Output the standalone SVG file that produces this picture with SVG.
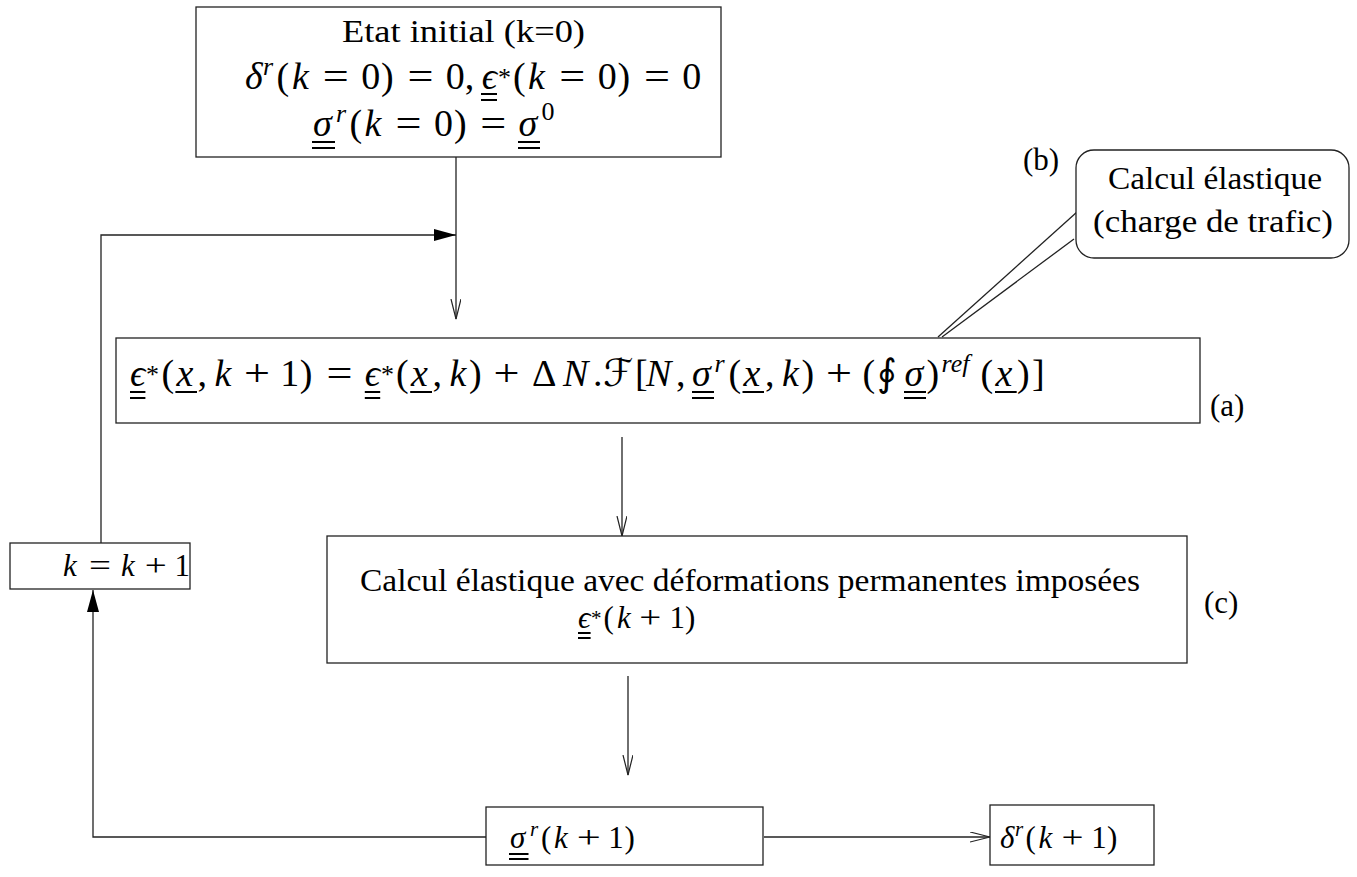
<svg xmlns="http://www.w3.org/2000/svg" width="1357" height="877" viewBox="0 0 1357 877">
<defs>
<marker id="open" markerWidth="22" markerHeight="12" refX="20" refY="5" orient="auto" markerUnits="userSpaceOnUse"><path d="M0,0 L20,5 L0,10" fill="none" stroke="#222" stroke-width="1.2"/></marker>
<marker id="fill" markerWidth="24" markerHeight="14" refX="22" refY="6" orient="auto" markerUnits="userSpaceOnUse"><path d="M0,0 L22,6 L0,12 z" fill="#000" stroke="none"/></marker>
</defs>
<style>
.b { fill: #fff; stroke: #222; stroke-width: 1.3; }
.c { fill: none; stroke: #222; stroke-width: 1.3; }
.t { font-family: "Liberation Serif", "DejaVu Serif", serif; font-size: 31px; fill: #000; }
.m { font-family: "Liberation Serif", "DejaVu Serif", "DejaVu Sans", serif; font-size: 38px; fill: #000; }
.n { font-family: "Liberation Serif", "DejaVu Serif", "DejaVu Sans", serif; font-size: 31px; fill: #000; }
.i { font-style: italic; }
.s { font-size: 26px; }
.ss { font-size: 21px; }
.u { stroke: #000; stroke-width: 2.2; fill: none; }
</style>
<rect width="1357" height="877" fill="#fff"/>

<g id="connectors">
<line class="c" x1="456" y1="157" x2="456" y2="319" marker-end="url(#open)"/>
<polyline class="c" points="101,543 101,235 456,235" marker-end="url(#fill)"/>
<line class="c" x1="622" y1="437" x2="622" y2="536" marker-end="url(#open)"/>
<line class="c" x1="628" y1="676" x2="628" y2="775" marker-end="url(#open)"/>
<line class="c" x1="764" y1="837" x2="990" y2="837" marker-end="url(#open)"/>
<polyline class="c" points="486,837 93,837 93,590" marker-end="url(#fill)"/>
<line class="c" x1="1077" y1="212" x2="938" y2="337"/>
<line class="c" x1="1074" y1="239" x2="942" y2="337"/>
</g>

<g id="init">
<rect class="b" x="196" y="7" width="525" height="150"/>
<text class="t" x="342" y="42" textLength="243" lengthAdjust="spacingAndGlyphs">Etat initial (k=0)</text>
<text class="m">
<tspan class="i" x="245" y="89">δ</tspan><tspan class="i s" x="263" y="75">r</tspan><tspan x="276.5" y="89">(</tspan><tspan class="i" x="292" y="89">k</tspan><tspan x="322.8" y="89" textLength="26" lengthAdjust="spacingAndGlyphs">=</tspan><tspan x="361.2" y="89">0</tspan><tspan x="381" y="89">)</tspan><tspan x="407.4" y="89" textLength="26" lengthAdjust="spacingAndGlyphs">=</tspan><tspan x="445.8" y="89">0,</tspan><tspan class="i" x="481.7" y="89">ϵ</tspan><tspan class="s" x="498" y="86">*</tspan><tspan x="513" y="89">(</tspan><tspan class="i" x="528" y="89">k</tspan><tspan x="559.3" y="89" textLength="26" lengthAdjust="spacingAndGlyphs">=</tspan><tspan x="597.7" y="89">0</tspan><tspan x="617.5" y="89">)</tspan><tspan x="643.9" y="89" textLength="26" lengthAdjust="spacingAndGlyphs">=</tspan><tspan x="682.3" y="89">0</tspan>
</text>
<text class="m">
<tspan class="i" x="313" y="136">σ</tspan><tspan class="i s" x="336" y="122">r</tspan><tspan x="349.5" y="136">(</tspan><tspan class="i" x="364.5" y="136">k</tspan><tspan x="395.6" y="136" textLength="26" lengthAdjust="spacingAndGlyphs">=</tspan><tspan x="434" y="136">0</tspan><tspan x="454" y="136">)</tspan><tspan x="480.2" y="136" textLength="26" lengthAdjust="spacingAndGlyphs">=</tspan><tspan class="i" x="518.6" y="136">σ</tspan><tspan class="s" x="541.5" y="120">0</tspan>
</text>
<path class="u" d="M481,94 H497 M481,100 H497 M312,142 H335 M312,148 H335 M518,142 H540 M518,148 H540"/>
</g>

<g id="callout">
<rect class="b" x="1076" y="150" width="273" height="108" rx="18"/>
<text class="t" x="1108" y="189" textLength="214" lengthAdjust="spacingAndGlyphs">Calcul élastique</text>
<text class="t" x="1093" y="232" textLength="240" lengthAdjust="spacingAndGlyphs">(charge de trafic)</text>
</g>
<g id="label-b"><text class="t" x="1023" y="170" font-size="28">(b)</text></g>

<g id="update">
<rect class="b" x="116" y="338" width="1084" height="85"/>
<text class="m">
<tspan class="i" x="130" y="386">ϵ</tspan><tspan class="s" x="146" y="383">*</tspan><tspan x="161.5" y="386">(</tspan><tspan class="i" x="176.5" y="386">x</tspan><tspan x="197.5" y="386">,</tspan><tspan class="i" x="214.5" y="386">k</tspan><tspan x="244" y="386" textLength="26" lengthAdjust="spacingAndGlyphs">+</tspan><tspan x="280.2" y="386">1</tspan><tspan x="299.7" y="386">)</tspan><tspan x="326.4" y="386" textLength="26" lengthAdjust="spacingAndGlyphs">=</tspan><tspan class="i" x="364.8" y="386">ϵ</tspan><tspan class="s" x="381" y="383">*</tspan><tspan x="396" y="386">(</tspan><tspan class="i" x="411" y="386">x</tspan><tspan x="432.5" y="386">,</tspan><tspan class="i" x="449.5" y="386">k</tspan><tspan x="469" y="386">)</tspan><tspan x="493.6" y="386" textLength="26" lengthAdjust="spacingAndGlyphs">+</tspan><tspan x="532" y="386">Δ</tspan><tspan class="i" x="563" y="386">N</tspan><tspan x="593" y="386">.</tspan><tspan x="603" y="386">ℱ</tspan><tspan x="635" y="386">[</tspan><tspan class="i" x="646" y="386">N</tspan><tspan x="676" y="386">,</tspan><tspan class="i" x="692" y="386">σ</tspan><tspan class="i s" x="714.5" y="372">r</tspan><tspan x="728.5" y="386">(</tspan><tspan class="i" x="743.5" y="386">x</tspan><tspan x="765" y="386">,</tspan><tspan class="i" x="782" y="386">k</tspan><tspan x="801.5" y="386">)</tspan><tspan x="825.9" y="386" textLength="26" lengthAdjust="spacingAndGlyphs">+</tspan><tspan x="862.5" y="386">(</tspan><tspan x="877" y="386">∮</tspan><tspan class="i" x="904.4" y="386">σ</tspan><tspan x="926.5" y="386">)</tspan><tspan class="i s" x="941.5" y="372">ref</tspan><tspan x="980.5" y="386">(</tspan><tspan class="i" x="995.5" y="386">x</tspan><tspan x="1017" y="386">)</tspan><tspan x="1032" y="386">]</tspan>
</text>
<path class="u" d="M130,392 H145.4 M130,398 H145.4 M175.4,392 H197 M364.8,392 H380.2 M364.8,398 H380.2 M410.2,392 H432 M692,392 H714 M692,398 H714 M742.5,392 H764 M904,392 H926 M904,398 H926 M995,392 H1016.7"/>
</g>
<g id="label-a"><text class="t" x="1210" y="416" font-size="28">(a)</text></g>

<g id="elastic">
<rect class="b" x="327" y="536" width="860" height="127"/>
<text class="t" x="360" y="591" textLength="780" lengthAdjust="spacingAndGlyphs">Calcul élastique avec déformations permanentes imposées</text>
<text class="n">
<tspan class="i" x="578" y="628">ϵ</tspan><tspan class="ss" x="591" y="625">*</tspan><tspan x="603.5" y="628">(</tspan><tspan class="i" x="617" y="628">k</tspan><tspan x="639.3" y="628" textLength="22" lengthAdjust="spacingAndGlyphs">+</tspan><tspan x="669.5" y="628">1</tspan><tspan x="685" y="628">)</tspan>
</text>
<path class="u" d="M578,633 H590.6 M578,638 H590.6"/>
</g>
<g id="label-c"><text class="t" x="1204" y="613" font-size="28">(c)</text></g>

<g id="kinc">
<rect class="b" x="10" y="543" width="180" height="46"/>
<text class="n"><tspan class="i" x="63" y="576">k</tspan><tspan x="88.9" y="576" textLength="22" lengthAdjust="spacingAndGlyphs">=</tspan><tspan class="i" x="121" y="576">k</tspan><tspan x="144.7" y="576" textLength="22" lengthAdjust="spacingAndGlyphs">+</tspan><tspan x="174.6" y="576">1</tspan></text>
</g>

<g id="sigma">
<rect class="b" x="486" y="807" width="277" height="58"/>
<text class="n" font-size="32"><tspan class="i" x="510" y="848">σ</tspan><tspan class="i ss" x="530" y="836">r</tspan><tspan x="541" y="848">(</tspan><tspan class="i" x="554" y="848">k</tspan><tspan x="576.7" y="848" textLength="24" lengthAdjust="spacingAndGlyphs">+</tspan><tspan x="608.2" y="848">1</tspan><tspan x="624.5" y="848">)</tspan></text>
<path class="u" d="M509,854 H528.5 M509,859 H528.5"/>
</g>

<g id="delta">
<rect class="b" x="990" y="805" width="164" height="60"/>
<text class="n"><tspan class="i" x="1000" y="848">δ</tspan><tspan class="i ss" x="1015" y="836">r</tspan><tspan x="1025.5" y="848">(</tspan><tspan class="i" x="1038.5" y="848">k</tspan><tspan x="1061.4" y="848" textLength="22" lengthAdjust="spacingAndGlyphs">+</tspan><tspan x="1091.3" y="848">1</tspan><tspan x="1107" y="848">)</tspan></text>
</g>
</svg>
